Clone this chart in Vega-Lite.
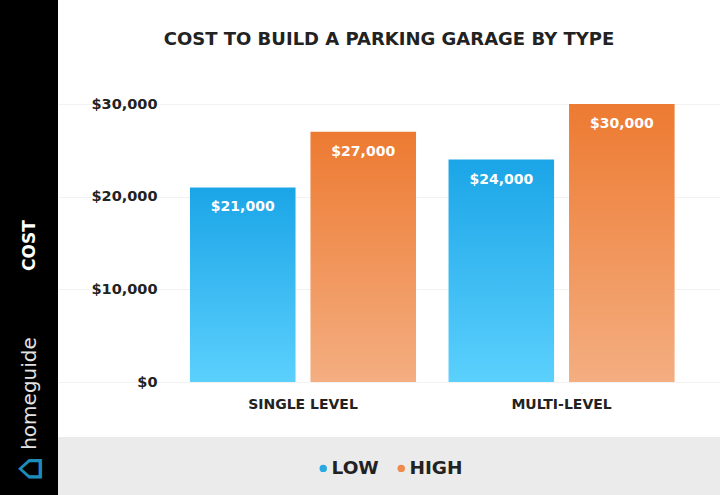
{
  "$schema": "https://vega.github.io/schema/vega-lite/v6.json",
  "background": "#ebebeb",
  "padding": 0,
  "spacing": 0,
  "bounds": "flush",
  "config": {"view": {"stroke": null}, "concat": {"spacing": 0}},
  "hconcat": [
    {
      "width": 58,
      "height": 495,
      "view": {"fill": "#000000", "stroke": null},
      "data": {"values": [{"brand": "homeguide"}]},
      "mark": {"type": "text", "text": ""},
      "encoding": {
        "x": {"field": "brand", "type": "nominal", "axis": {"title": "⌂", "labels": false, "ticks": false, "domain": false, "titleAngle": -90, "titleX": 29, "titleY": -27, "titleAlign": "center", "titleBaseline": "middle", "titleColor": "#1e8cb8", "titleFont": "DejaVu Sans", "titleFontSize": 40, "titleFontWeight": "normal"}},
        "y": {"field": "brand", "type": "nominal", "axis": {"title": "homeguide", "labels": false, "ticks": false, "domain": false, "titleAngle": -90, "titleX": 29, "titleY": 393, "titleAlign": "center", "titleBaseline": "middle", "titleColor": "#e2e2e2", "titleFont": "DejaVu Sans", "titleFontSize": 20, "titleFontWeight": "normal"}}
      }
    },
    {
      "width": 662,
      "height": 437,
      "view": {"fill": "#ffffff", "stroke": null},
      "title": {"text": "COST TO BUILD A PARKING GARAGE BY TYPE", "font": "DejaVu Sans", "fontSize": 18, "fontWeight": "bold", "color": "#222222", "anchor": "middle", "offset": -58, "baseline": "middle"},
      "data": {"values": [
        {"level": "SINGLE LEVEL", "type": "LOW", "cost": 21000},
        {"level": "SINGLE LEVEL", "type": "HIGH", "cost": 27000},
        {"level": "MULTI-LEVEL", "type": "LOW", "cost": 24000},
        {"level": "MULTI-LEVEL", "type": "HIGH", "cost": 30000}
      ]},
      "encoding": {
        "x": {"field": "level", "type": "nominal", "sort": ["SINGLE LEVEL", "MULTI-LEVEL"], "scale": {"paddingInner": 0.1257, "paddingOuter": 0.343, "align": 0.744}, "axis": {"title": null, "labelAngle": 0, "domain": false, "ticks": false, "offset": -55, "labelPadding": 15, "labelBaseline": "top", "labelFont": "DejaVu Sans", "labelFontSize": 14, "labelFontWeight": "bold", "labelColor": "#222222"}},
        "xOffset": {"field": "type", "type": "nominal", "sort": ["LOW", "HIGH"], "scale": {"paddingInner": 0.124, "paddingOuter": 0}},
        "y": {"field": "cost", "type": "quantitative", "scale": {"domain": [-5935, 41223], "nice": false, "zero": false}, "axis": {"values": [0, 10000, 20000, 30000], "format": "$,.0f", "offset": -112, "domain": false, "ticks": false, "labelPadding": 13, "labelFont": "DejaVu Sans", "labelFontSize": 14.5, "labelFontWeight": "bold", "labelColor": "#222222", "grid": true, "gridColor": "#f2f2f2", "title": "COST", "titleColor": "#ffffff", "titleFont": "DejaVu Sans", "titleFontSize": 17, "titleFontWeight": "bold", "titleAngle": -90, "titleX": -141, "titleY": 245, "titleAlign": "center", "titleBaseline": "middle"}}
      },
      "layer": [
        {
          "mark": {"type": "bar"},
          "encoding": {
            "fill": {
              "condition": {"test": "datum.type === 'LOW'", "value": {"gradient": "linear", "x1": 0, "y1": 0, "x2": 0, "y2": 1, "stops": [{"offset": 0, "color": "#1ba5e7"}, {"offset": 1, "color": "#5bd0fd"}]}},
              "value": {"gradient": "linear", "x1": 0, "y1": 0, "x2": 0, "y2": 1, "stops": [{"offset": 0, "color": "#ed7a31"}, {"offset": 1, "color": "#f4ae81"}]}
            }
          }
        },
        {
          "mark": {"type": "text", "baseline": "middle", "dy": 20, "color": "#ffffff", "font": "DejaVu Sans", "fontSize": 14, "fontWeight": "bold"},
          "encoding": {"text": {"field": "cost", "type": "quantitative", "format": "$,.0f"}}
        },
        {
          "transform": [{"filter": "false"}],
          "mark": {"type": "point", "filled": true},
          "encoding": {
            "color": {"field": "type", "type": "nominal", "scale": {"domain": ["LOW", "HIGH"], "range": ["#29a9e1", "#ee8a4c"]}, "legend": {"title": null, "orient": "none", "legendX": 314, "legendY": 459, "direction": "horizontal", "symbolType": "circle", "symbolSize": 55, "symbolOpacity": 1, "labelFont": "DejaVu Sans", "labelFontSize": 18.5, "labelFontWeight": "bold", "labelColor": "#222222", "labelOffset": -1, "columnPadding": 13}}
          }
        }
      ]
    }
  ]
}
